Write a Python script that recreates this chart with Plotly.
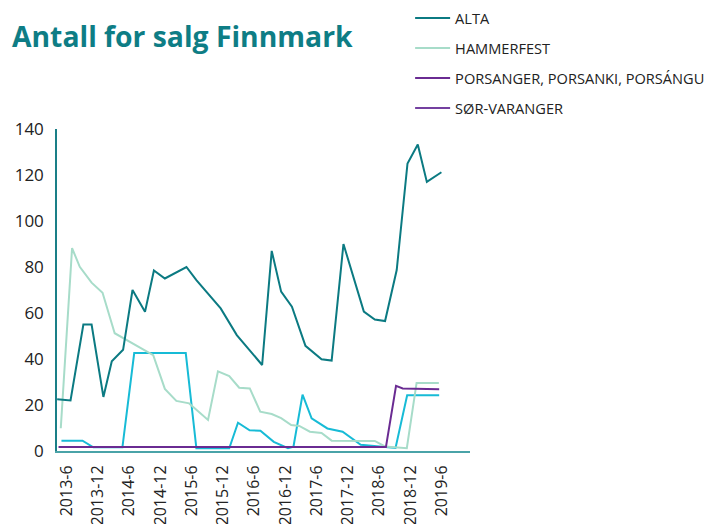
import plotly.graph_objects as go

# ---------------- data ----------------
ALTA_DATES = ["2013-04-07", "2013-06-24", "2013-09-07", "2013-10-25", "2014-01-02",
              "2014-02-20", "2014-04-27", "2014-06-21", "2014-09-02", "2014-10-24",
              "2014-12-27", "2015-05-02", "2015-06-29", "2015-11-18", "2016-02-20",
              "2016-07-17", "2016-09-11", "2016-11-05", "2017-01-07", "2017-03-27",
              "2017-06-29", "2017-08-27", "2017-11-04", "2018-03-03", "2018-05-06",
              "2018-07-05", "2018-09-11", "2018-11-13", "2019-01-12", "2019-03-06",
              "2019-05-30"]
ALTA = [22.5, 22, 55, 55, 23.5, 39, 44, 70, 60.5, 78.5, 75, 80, 74.3, 62, 50.4,
        37.4, 87, 69.3, 62.7, 45.7, 39.9, 39.3, 90, 60.6, 57.2, 56.5, 78.7, 125,
        133.3, 117, 121.2]

HAMMERFEST_DATES = ["2013-04-28", "2013-07-03", "2013-08-17", "2013-10-25", "2013-12-28",
                    "2014-03-09", "2014-10-20", "2014-12-27", "2015-03-04", "2015-05-18",
                    "2015-09-05", "2015-11-02", "2016-01-07", "2016-03-05", "2016-05-06",
                    "2016-07-06", "2016-09-11", "2016-11-05", "2017-01-03", "2017-02-19",
                    "2017-04-22", "2017-06-29", "2017-08-27", "2018-05-06", "2018-07-04",
                    "2018-11-09", "2019-01-05", "2019-05-15"]
HAMMERFEST = [9.9, 88.2, 80.1, 73.2, 68.8, 51.2, 41.7, 27, 21.8, 20.7, 13.5, 34.6,
              32.6, 27.5, 27.2, 17.1, 16.1, 14.3, 11.3, 10.9, 8.4, 7.8, 4.5, 4.4, 2,
              1.2, 29.6, 29.6]

PORSANGER_DATES = ["2013-04-15", "2018-07-10", "2018-09-07", "2018-10-16", "2019-05-17"]
PORSANGER = [1.7, 1.7, 28.3, 27.2, 26.8]

# no visible line for this series in the reference (legend entry only)
SOR_VARANGER_DATES = ["2013-04-07", "2019-05-17"]
SOR_VARANGER = [None, None]

OTHER_DATES = ["2013-05-02", "2013-09-02", "2013-11-04", "2014-04-23", "2014-07-01",
               "2015-04-28", "2015-06-29", "2016-01-07", "2016-02-27", "2016-05-05",
               "2016-07-07", "2016-09-23", "2016-12-15", "2017-01-16", "2017-03-10",
               "2017-05-02", "2017-08-02", "2017-10-30", "2018-02-13", "2018-09-04",
               "2018-11-11", "2019-05-17"]
OTHER = [4.5, 4.5, 1.6, 1.6, 42.6, 42.6, 1.2, 1.2, 12.3, 9.0, 8.8, 4, 1.2, 1.9,
         24.5, 14.2, 9.8, 8.4, 2.7, 1.3, 24.2, 24.2]

TICK_DATES = ["2013-06-01", "2013-12-01", "2014-06-01", "2014-12-01", "2015-06-01",
              "2015-12-01", "2016-06-01", "2016-12-01", "2017-06-01", "2017-12-01",
              "2018-06-01", "2018-12-01", "2019-06-01"]
TICK_LABELS = ["2013-6", "2013-12", "2014-6", "2014-12", "2015-6", "2015-12",
               "2016-6", "2016-12", "2017-6", "2017-12", "2018-6", "2018-12", "2019-6"]

TITLE = "Antall for salg Finnmark"

# ---------------- figure ----------------
FONT = "'Open Sans', Lato, sans-serif"
fig = go.Figure()

fig.add_trace(go.Scatter(x=OTHER_DATES, y=OTHER, mode="lines", name="",
                         line=dict(color="#17bbd6", width=2), showlegend=False,
                         hoverinfo="skip"))
fig.add_trace(go.Scatter(x=HAMMERFEST_DATES, y=HAMMERFEST, mode="lines", name="HAMMERFEST",
                         line=dict(color="#a7dcc9", width=2), legendgroup="b", legendrank=2))
fig.add_trace(go.Scatter(x=SOR_VARANGER_DATES, y=SOR_VARANGER, mode="lines", name="SØR-VARANGER",
                         line=dict(color="#7440a0", width=2), legendgroup="d", legendrank=4))
fig.add_trace(go.Scatter(x=PORSANGER_DATES, y=PORSANGER, mode="lines",
                         name="PORSANGER, PORSANKI, PORSÁNGU",
                         line=dict(color="#6a2b92", width=2), legendgroup="c", legendrank=3))
fig.add_trace(go.Scatter(x=ALTA_DATES, y=ALTA, mode="lines", name="ALTA",
                         line=dict(color="#0b7a82", width=2), legendgroup="a", legendrank=1))

fig.update_layout(
    width=710, height=524,
    margin=dict(l=57, r=240, t=129, b=73, autoexpand=False),
    paper_bgcolor="white", plot_bgcolor="white",
    font=dict(family=FONT, color="#222222"),
    title=dict(text="<b>" + TITLE + "</b>", x=12 / 710, xanchor="left", xref="container",
               y=1 - 37 / 524, yanchor="middle", yref="container",
               font=dict(family=FONT, size=28.3, color="#0e7d85")),
    legend=dict(x=0.855, xanchor="left", y=1.394, yanchor="top", itemwidth=35,
                font=dict(family=FONT, size=14.6, color="#222222"),
                tracegroupgap=8, bgcolor="rgba(0,0,0,0)", traceorder="grouped"),
    showlegend=True,
)
fig.update_xaxes(type="date", range=["2013-04-06", "2019-11-13"],
                 tickvals=TICK_DATES, ticktext=TICK_LABELS, tickangle=-90,
                 tickfont=dict(family=FONT, size=16, color="#222222"),
                 showgrid=False, zeroline=False, showline=True, linecolor="#4aa3a8",
                 linewidth=2, ticks="", automargin=False, ticklabelstandoff=6)
fig.update_yaxes(range=[0, 140], tickvals=[0, 20, 40, 60, 80, 100, 120, 140],
                 tickfont=dict(family=FONT, size=17, color="#222222"),
                 showgrid=False, zeroline=False, showline=True, linecolor="#1a7f87",
                 linewidth=1.5, ticks="", automargin=False, ticklabelstandoff=8)

fig.write_html("out.html", config={"displayModeBar": False},
               post_script="document.body.style.margin='0';")
